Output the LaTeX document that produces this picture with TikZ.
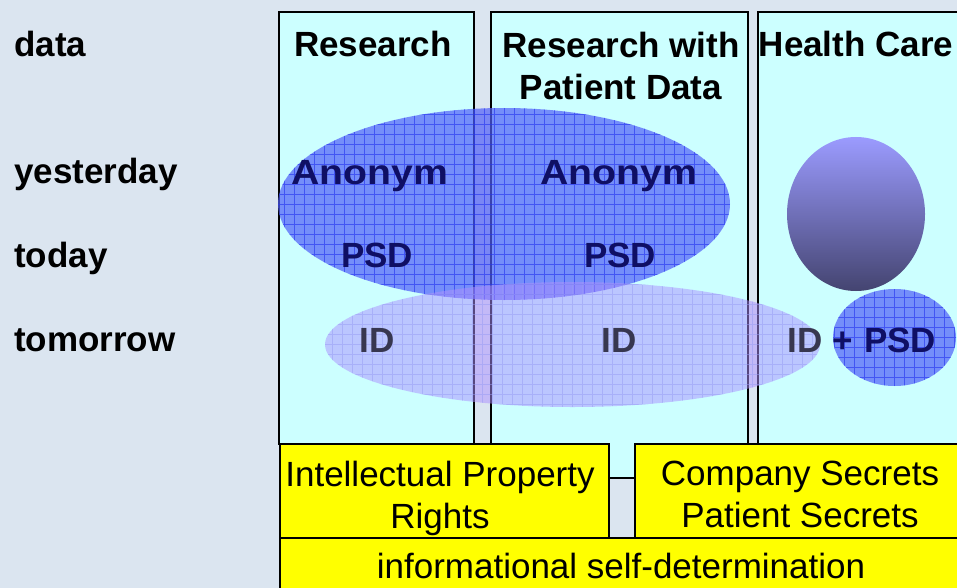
\documentclass[tikz,border=0pt]{standalone}
\usepackage{fontspec}
\setmainfont{Liberation Sans}
\usetikzlibrary{shapes.geometric}

\definecolor{pagebg}{RGB}{219,229,240}
\definecolor{lanefill}{RGB}{204,255,255}
\definecolor{notefill}{RGB}{255,255,0}
\definecolor{hatchdark}{RGB}{80,95,248}
\definecolor{griddark}{RGB}{40,55,240}
\definecolor{hatchlight}{RGB}{172,142,255}
\definecolor{gridlight}{RGB}{150,155,245}
\definecolor{navytext}{RGB}{15,15,100}
\definecolor{idtext}{RGB}{55,55,80}
\definecolor{spheretop}{RGB}{155,155,255}
\definecolor{spherebottom}{RGB}{68,68,112}

\tikzset{
  lane/.style={draw=black, line width=1.5pt, fill=lanefill, anchor=north west,
    inner sep=0pt, outer sep=0pt},
  notebox/.style={draw=black, line width=1.2pt, fill=notefill, anchor=north west,
    inner sep=0pt, outer sep=0pt},
  bigtext/.style={inner sep=0pt, font=\fontsize{35}{42}\selectfont\bfseries},
  plaintext/.style={inner sep=0pt, font=\fontsize{35}{42}\selectfont},
  rowlabel/.style={bigtext, anchor=base west},
  hatchdarkblob/.style={shape=ellipse, inner sep=0pt, fill=hatchdark, fill opacity=0.7,
    path picture={\draw[griddark, draw opacity=0.65, line width=0.8pt]
      (path picture bounding box.south west) grid[step=10pt]
      (path picture bounding box.north east);}},
  hatchlightblob/.style={shape=ellipse, inner sep=0pt, fill=hatchlight, fill opacity=0.5,
    path picture={\draw[gridlight, draw opacity=0.5, line width=0.7pt]
      (path picture bounding box.south west) grid[step=10pt]
      (path picture bounding box.north east);}},
}

\begin{document}
\begin{tikzpicture}[x=1pt, y=-1pt]
  % page
  \fill[pagebg] (0,0) rectangle (957,588);
  \useasboundingbox (0,0) rectangle (957,588);

  % row labels
  \node[rowlabel] (rdata) at (14,57) {data};
  \node[rowlabel] (ryesterday) at (14,183) {yesterday};
  \node[rowlabel] (rtoday) at (14,267) {today};
  \node[rowlabel] (rtomorrow) at (14,351) {tomorrow};

  % the three lanes
  \node[lane, minimum width=195pt, minimum height=432pt] (research) at (279,12) {};
  \node[lane, minimum width=257pt, minimum height=466pt] (patient) at (491,12) {};
  \node[lane, minimum width=215pt, minimum height=432pt] (health) at (758,12) {};

  % lane titles
  \node[bigtext, anchor=base] (tresearch) at (373,57) {Research};
  \node[bigtext, anchor=north, align=center] (tpatient) at (621,32) {Research with\\Patient Data};
  \node[bigtext, anchor=base] (thealth) at (856,57) {Health Care};

  % data regions
  \node[hatchdarkblob, minimum width=452pt, minimum height=192pt] (pastdata) at (504,204) {};
  \node[hatchlightblob, minimum width=495pt, minimum height=125pt] (futuredata) at (572.5,344.5) {};
  \node[shape=ellipse, inner sep=0pt, minimum width=138pt, minimum height=154pt,
        top color=spheretop, bottom color=spherebottom] (caredata) at (856,214) {};
  \node[hatchdarkblob, minimum width=123pt, minimum height=97pt] (carepsd) at (894.5,337.5) {};

  % data kinds
  \node[bigtext, navytext, anchor=base, xscale=1.12] (anon1) at (370,184) {Anonym};
  \node[bigtext, navytext, anchor=base, xscale=1.12] (anon2) at (619,184) {Anonym};
  \node[bigtext, navytext, anchor=base] (psd1) at (377,267) {PSD};
  \node[bigtext, navytext, anchor=base] (psd2) at (620,267) {PSD};
  \node[bigtext, idtext, anchor=base] (id1) at (377,352) {ID};
  \node[bigtext, idtext, anchor=base] (id2) at (619,352) {ID};
  \node[bigtext, idtext, anchor=base] (id3) at (805,352) {ID};
  \node[bigtext, navytext, anchor=base] (plus) at (843,352) {+};
  \node[bigtext, navytext, anchor=base] (psd3) at (900,352) {PSD};

  % protection layers
  \node[notebox, minimum width=329pt, minimum height=94pt] (iprbox) at (280,444) {};
  \node[notebox, minimum width=330pt, minimum height=94pt] (secretbox) at (635,444) {};
  \node[notebox, minimum width=690pt, minimum height=60pt] (selfbox) at (280,538) {};

  \node[plaintext, anchor=north, align=center] (iprtext) at (440,461) {Intellectual Property\\Rights};
  \node[plaintext, anchor=north, align=center] (secrettext) at (800,461) {Company Secrets\\Patient Secrets};
  \node[plaintext, anchor=base] (selftext) at (621,578) {informational self-determination};
\end{tikzpicture}
\end{document}
